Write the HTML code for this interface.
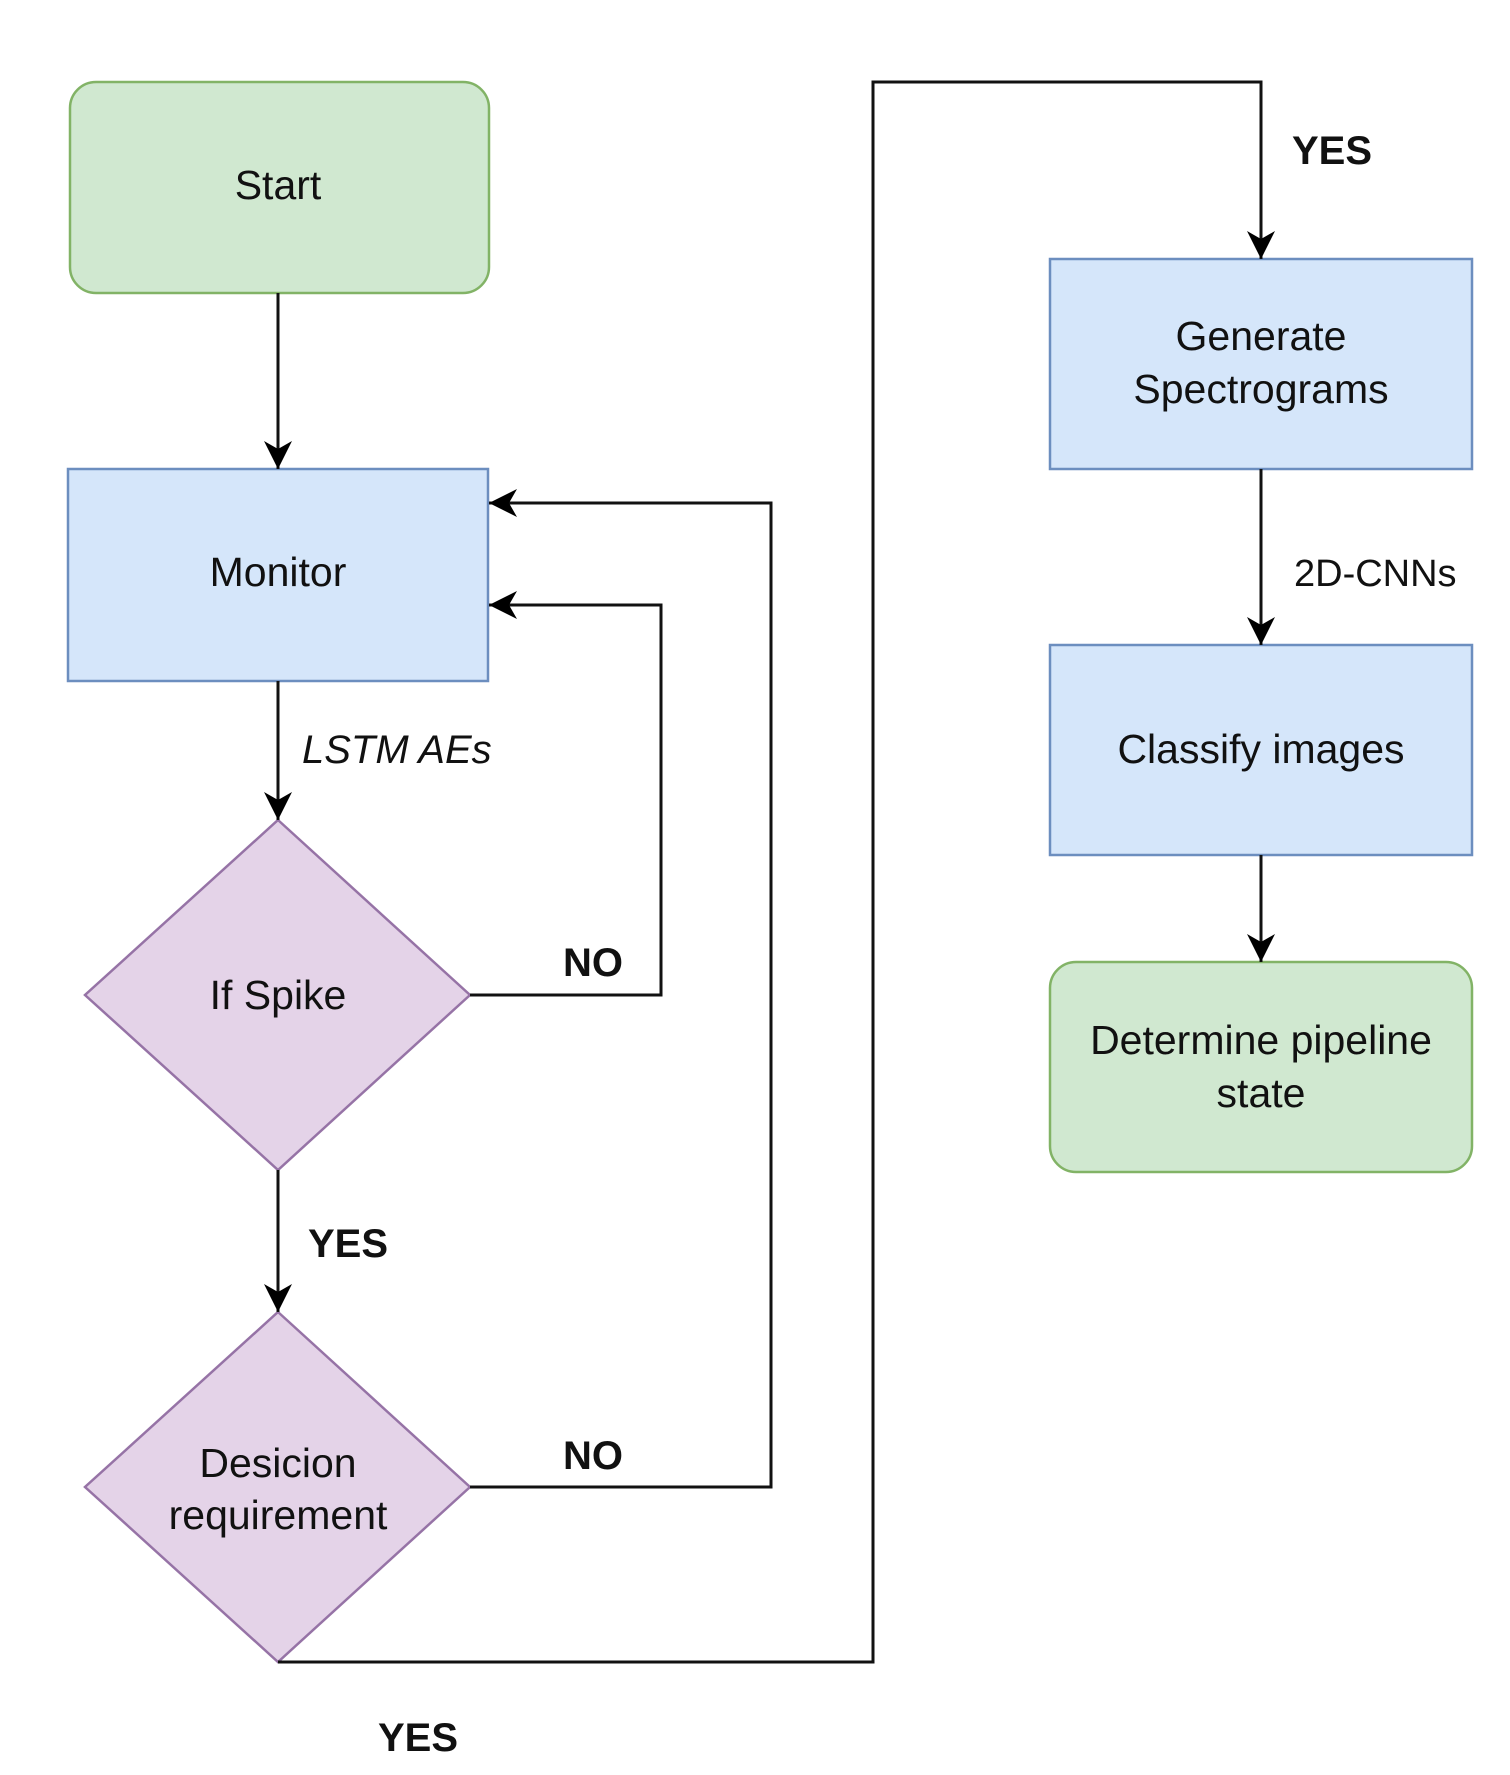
<!DOCTYPE html>
<html><head><meta charset="utf-8"><style>
html,body{margin:0;padding:0;background:#fff;}
svg{display:block;}
text{font-family:"Liberation Sans",Arial,sans-serif;fill:#111;}
</style></head><body>
<svg width="1510" height="1775" viewBox="0 0 1510 1775" xmlns="http://www.w3.org/2000/svg">
<defs>
<marker id="a" markerWidth="30" markerHeight="28" refX="28" refY="14" orient="auto" markerUnits="userSpaceOnUse">
<path d="M0,0 L28,14 L0,28 L8,14 Z" fill="#000"/>
</marker>
</defs>
<g stroke-width="2.5">
<rect x="70" y="82" width="419" height="211" rx="26" fill="#d0e8d0" stroke="#82b366"/>
<rect x="68" y="469" width="420" height="212" fill="#d5e6fa" stroke="#6c8ebf"/>
<rect x="1050" y="259" width="422" height="210" fill="#d5e6fa" stroke="#6c8ebf"/>
<rect x="1050" y="645" width="422" height="210" fill="#d5e6fa" stroke="#6c8ebf"/>
<rect x="1050" y="962" width="422" height="210" rx="26" fill="#d0e8d0" stroke="#82b366"/>
<polygon points="278,820 470,995 278,1170 85,995" fill="#e4d3e8" stroke="#9673a6"/>
<polygon points="278,1312 470,1487 278,1662 85,1487" fill="#e4d3e8" stroke="#9673a6"/>
</g>
<g stroke="#111" stroke-width="3" fill="none">
<line x1="278" y1="293" x2="278" y2="469" marker-end="url(#a)"/>
<line x1="278" y1="681" x2="278" y2="820" marker-end="url(#a)"/>
<line x1="278" y1="1170" x2="278" y2="1312" marker-end="url(#a)"/>
<polyline points="470,995 661,995 661,605 489,605" marker-end="url(#a)"/>
<polyline points="470,1487 771,1487 771,503 489,503" marker-end="url(#a)"/>
<polyline points="278,1662 873,1662 873,82 1261,82 1261,259" marker-end="url(#a)"/>
<line x1="1261" y1="469" x2="1261" y2="645" marker-end="url(#a)"/>
<line x1="1261" y1="855" x2="1261" y2="962" marker-end="url(#a)"/>
</g>
<g font-size="41" text-anchor="middle">
<text x="278" y="199">Start</text>
<text x="278" y="586">Monitor</text>
<text x="1261" y="350">Generate</text>
<text x="1261" y="403">Spectrograms</text>
<text x="1261" y="763">Classify images</text>
<text x="1261" y="1054">Determine pipeline</text>
<text x="1261" y="1107">state</text>
<text x="278" y="1009">If Spike</text>
<text x="278" y="1477">Desicion</text>
<text x="278" y="1529">requirement</text>
</g>
<g font-size="40" font-weight="bold">
<text x="1292" y="164">YES</text>
<text x="563" y="976">NO</text>
<text x="308" y="1257">YES</text>
<text x="563" y="1469">NO</text>
<text x="378" y="1751">YES</text>
</g>
<text x="302" y="763" font-size="40" font-style="italic">LSTM AEs</text>
<text x="1294" y="586" font-size="38">2D-CNNs</text>
</svg>
</body></html>
